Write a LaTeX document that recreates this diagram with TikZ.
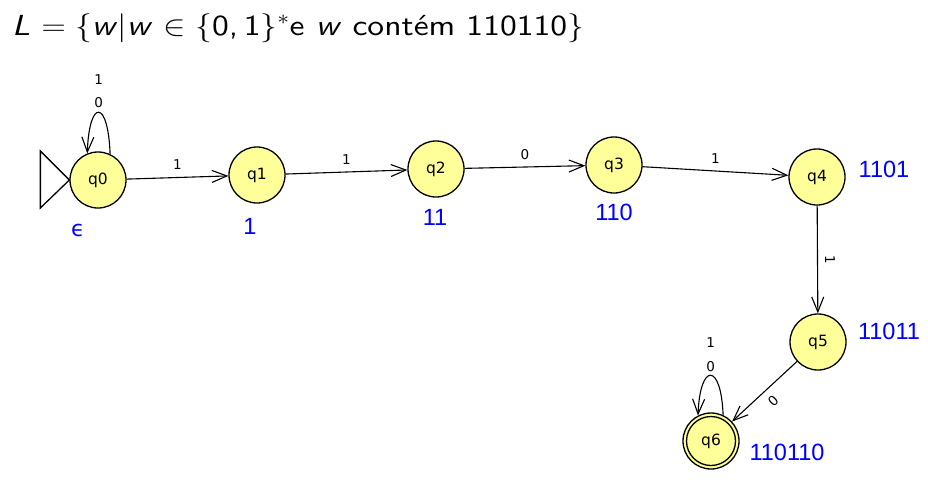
\RequirePackage{fix-cm}
\documentclass[tikz,border=0pt]{standalone}
\usepackage{graphicx}
\usepackage{fontspec}
\newfontfamily\dejavu{DejaVu Sans}
\newfontfamily\libsans{Liberation Sans}
\newfontfamily\titlefont{lmsans10-regular}[Extension=.otf,ItalicFont=lmsans10-oblique]
\usetikzlibrary{arrows.meta}
\definecolor{stfill}{RGB}{255,255,153}
\definecolor{lblue}{RGB}{0,0,255}
\begin{document}
\begin{tikzpicture}[x=1pt,y=-1pt,
  state/.style={circle,draw,line width=1.3pt,fill=stfill,minimum size=56pt,inner sep=0pt,
    font=\dejavu\fontsize{15.5}{15.5}\selectfont},
  edge/.style={line width=1.1pt,-{Straight Barb[length=15pt,width=12pt,line width=1.1pt]}},
  elab/.style={font=\dejavu\fontsize{13.5}{13.5}\selectfont,inner sep=1pt},
  blab/.style={font=\libsans\fontsize{23.5}{23.5}\selectfont,text=lblue,inner sep=0pt}]
\useasboundingbox (0,0) rectangle (928,483);
\node[anchor=base west,inner sep=0pt,font=\titlefont\fontsize{29}{29}\selectfont] (title) at (12,35)
  {\scalebox{1.158}[1]{\textit{L} $=\{$\textit{w}$|$\textit{w} $\in\{$0,\,1$\}^*$e \textit{w} contém 110110$\}$}};
% states
\node[state] (q0) at (98,180) {q0};
\node[state] (q1) at (257,175) {q1};
\node[state] (q2) at (436,169) {q2};
\node[state] (q3) at (614,165) {q3};
\node[state] (q4) at (817,177) {q4};
\node[state] (q5) at (818,342) {q5};
\node[state] (q6) at (711,441) {q6};
\node[circle,draw,line width=1.3pt,minimum size=49pt,inner sep=0pt] (q6in) at (q6) {};
% initial marker
\draw[line width=1.3pt,fill=white] (q0.west) -- ++(-29,-29) -- ++(0,57) -- cycle;
% transitions
\draw[edge] (q0) -- node[elab,above=6pt] {1} (q1);
\draw[edge] (q1) -- node[elab,above=6pt] {1} (q2);
\draw[edge] (q2) -- node[elab,above=6pt] {0} (q3);
\draw[edge] (q3) -- node[elab,above=6pt] {1} (q4);
\draw[edge] (q4) -- node[elab,sloped,above=6pt] {1} (q5);
\draw[edge] (q5) -- node[elab,sloped,below=6pt] {0} (q6);
\draw[edge] (q0.65) .. controls +(-2,-55) and +(2,-55) .. node[elab,pos=0.5,above=3pt] (q0l0) {0} (q0.112);
\node[elab,anchor=south,yshift=10.8pt] (q0l1) at (q0l0.north) {1};
\draw[edge] (q6.65) .. controls +(-2,-53) and +(2,-53) .. node[elab,pos=0.5,above=2pt] (q6l0) {0} (q6.117);
\node[elab,anchor=south,yshift=12pt] (q6l1) at (q6l0.north) {1};
% blue labels
\node[blab,font=\dejavu\fontsize{22}{22}\selectfont] (e0) at (78,230) {ϵ};
\node[blab] (e1) at (250,226) {1};
\node[blab] (e2) at (435,217) {11};
\node[blab] (e3) at (614,212) {110};
\node[blab] (e4) at (884,169) {1101};
\node[blab] (e5) at (889,331) {11011};
\node[blab] (e6) at (787,452) {110110};
\end{tikzpicture}
\end{document}
